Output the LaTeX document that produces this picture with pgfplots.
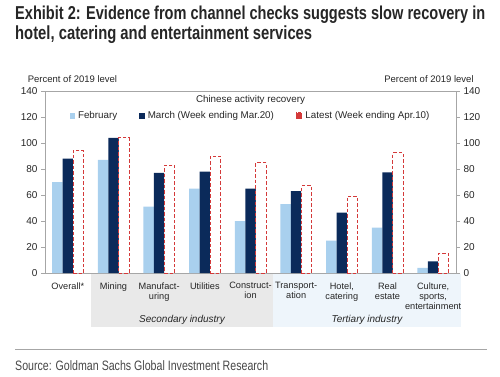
\documentclass[border=0pt]{standalone}
\usepackage{pgfplots}
\pgfplotsset{compat=1.18}
\usepackage{fontspec}
\setmainfont{Liberation Sans}
\setsansfont{Liberation Sans}
\newfontfamily\condfont[FakeStretch=0.78]{Liberation Sans}
\definecolor{feb}{HTML}{A9D0EE}
\definecolor{mar}{HTML}{0B2A5A}
\definecolor{lat}{HTML}{D43A3A}
\definecolor{secbg}{HTML}{E9E9E9}
\definecolor{terbg}{HTML}{EEF5FB}
\definecolor{axgray}{HTML}{A6A6A6}
\definecolor{txt}{HTML}{262626}
\begin{document}
\begin{tikzpicture}[x=1pt,y=1pt]
\path (0,0) rectangle (500,-377);
% titles
\node[anchor=base west,inner sep=0pt] at (15,-19.5) {\resizebox{470pt}{!}{\condfont\bfseries\color{txt}Exhibit 2: Evidence from channel checks suggests slow recovery in}};
\node[anchor=base west,inner sep=0pt] at (15,-39.5) {\resizebox{297pt}{!}{\condfont\bfseries\color{txt}hotel, catering and entertainment services}};
% group backgrounds
\fill[secbg] (91,-273.5) rectangle (273,-327);
\fill[terbg] (273,-273.5) rectangle (461,-327);
\node[font=\fontsize{10}{12}\selectfont\itshape,text=txt,anchor=base] at (182,-322) {Secondary industry};
\node[font=\fontsize{10}{12}\selectfont\itshape,text=txt,anchor=base] at (367,-322) {Tertiary industry};
% source
\draw[axgray,line width=0.8pt] (15,-349) -- (487,-349);
\node[anchor=base west,inner sep=0pt] at (15,-370) {\resizebox{253pt}{!}{\condfont\color{txt!85}Source: Goldman Sachs Global Investment Research}};
% axis labels
\node[font=\fontsize{9.5}{11}\selectfont,text=txt,anchor=base] at (72.5,-83) {Percent of 2019 level};
\node[font=\fontsize{9.5}{11}\selectfont,text=txt,anchor=base] at (429,-83) {Percent of 2019 level};
\begin{axis}[
  at={(45pt,-273pt)}, anchor=south west,
  scale only axis, width=411pt, height=182pt,
  xmin=-0.5, xmax=8.5, ymin=0, ymax=140,
  axis line style={axgray},
  axis x line*=bottom, axis y line*=left,
  ytick={0,20,...,140},
  tick style={axgray},
  ytick style={draw=axgray},
  tick align=outside,
  major tick length=4pt,
  xtick={0,...,8}, xtick style={draw=none},
  xticklabels={Overall*, Mining, {Manufact-\\uring}, Utilities, {Construct-\\ion}, {Transport-\\ation}, {Hotel,\\catering}, {Real\\estate}, {Culture,\\sports,\\entertainment}},
  xticklabel style={align=center, font=\fontsize{9.2}{10}\selectfont, text=txt, anchor=north, yshift=-2pt},
  yticklabel style={font=\fontsize{10}{12}\selectfont, text=txt},
  /pgf/number format/assume math mode=true,
  ybar, bar width=10.5pt,
  legend columns=3,
  legend style={draw=none, fill=none, at={(0.5,0.865)}, anchor=center, font=\fontsize{9.8}{12}\selectfont, text=txt,
    /tikz/every odd column/.append style={column sep=1pt},
    /tikz/every even column/.append style={column sep=20pt}},
]
\draw[axgray] (axis cs:-0.5,140) -- (axis cs:8.5,140);
\addplot[fill=feb, draw=none, bar shift=-10.5pt, legend image code/.code={\fill[feb] (0pt,-3pt) rectangle (5.5pt,3pt);}] coordinates {(0,70) (1,87) (2,51) (3,65) (4,40) (5,53) (6,25) (7,35) (8,4)};
\addplot[fill=mar, draw=none, bar shift=0pt, legend image code/.code={\fill[mar] (0pt,-3pt) rectangle (5.5pt,3pt);}] coordinates {(0,88) (1,104) (2,77) (3,78) (4,65) (5,63) (6,46.5) (7,77.5) (8,9)};
\addplot[fill=white, draw=lat, line width=1pt, dash pattern=on 3.5pt off 2pt, bar shift=10.5pt, legend image code/.code={\draw[lat,line width=1pt,dash pattern=on 2.5pt off 1.5pt] (0pt,-3pt) rectangle (5.5pt,3pt);}] coordinates {(0,94.5) (1,104) (2,83) (3,90) (4,85) (5,67) (6,59) (7,92.5) (8,15)};
\legend{February\hspace{10pt}, March (Week ending Mar.20)\hspace{8pt}, Latest (Week ending Apr.10)}
\node[font=\fontsize{9.8}{12}\selectfont, text=txt, anchor=base] at (axis description cs:0.5,0.935) {Chinese activity recovery};
\end{axis}
\begin{axis}[
  at={(45pt,-273pt)}, anchor=south west,
  scale only axis, width=411pt, height=182pt,
  xmin=-0.5, xmax=8.5, ymin=0, ymax=140,
  axis line style={axgray},
  axis x line=none, axis y line*=right,
  ytick={0,20,...,140},
  tick align=outside, major tick length=4pt,
  ytick style={draw=axgray},
  yticklabel style={font=\fontsize{10}{12}\selectfont, text=txt},
  /pgf/number format/assume math mode=true,
]
\addplot[draw=none] coordinates {(0,0)};
\end{axis}
\end{tikzpicture}
\end{document}
